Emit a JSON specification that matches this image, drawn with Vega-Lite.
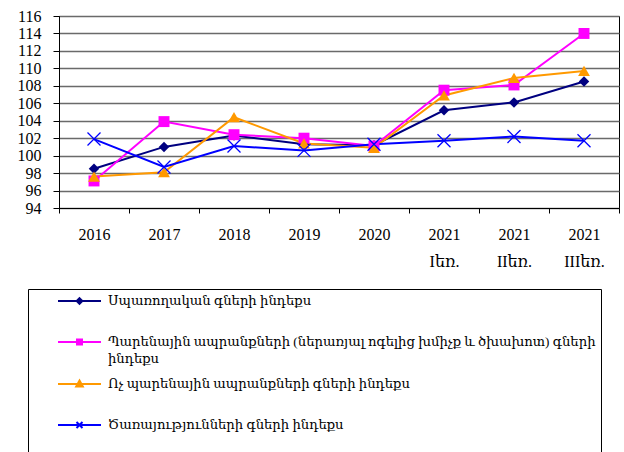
{
  "$schema": "https://vega.github.io/schema/vega-lite/v6.json",
  "width": 560,
  "height": 192,
  "autosize": {"type": "none"},
  "padding": {"left": 59, "top": 16, "right": 5, "bottom": 244},
  "background": "white",
  "config": {
    "font": "Liberation Serif, DejaVu Serif",
    "view": {"stroke": "black", "strokeWidth": 1}
  },
  "data": {
    "values": [
      {"period": "2016", "series": "Սպառողական  գների ինդեքս", "value": 98.5},
      {"period": "2017", "series": "Սպառողական  գների ինդեքս", "value": 101.0},
      {"period": "2018", "series": "Սպառողական  գների ինդեքս", "value": 102.3},
      {"period": "2019", "series": "Սպառողական  գների ինդեքս", "value": 101.3},
      {"period": "2020", "series": "Սպառողական  գների ինդեքս", "value": 101.2},
      {"period": "2021 Iեռ.", "series": "Սպառողական  գների ինդեքս", "value": 105.2},
      {"period": "2021 IIեռ.", "series": "Սպառողական  գների ինդեքս", "value": 106.1},
      {"period": "2021 IIIեռ.", "series": "Սպառողական  գների ինդեքս", "value": 108.5},
      {"period": "2016", "series": "Պարենային ապրանքների (ներառյալ ոգելից խմիչք և ծխախոտ) գների ինդեքս", "value": 97.1},
      {"period": "2017", "series": "Պարենային ապրանքների (ներառյալ ոգելից խմիչք և ծխախոտ) գների ինդեքս", "value": 103.9},
      {"period": "2018", "series": "Պարենային ապրանքների (ներառյալ ոգելից խմիչք և ծխախոտ) գների ինդեքս", "value": 102.4},
      {"period": "2019", "series": "Պարենային ապրանքների (ներառյալ ոգելից խմիչք և ծխախոտ) գների ինդեքս", "value": 102.0},
      {"period": "2020", "series": "Պարենային ապրանքների (ներառյալ ոգելից խմիչք և ծխախոտ) գների ինդեքս", "value": 101.1},
      {"period": "2021 Iեռ.", "series": "Պարենային ապրանքների (ներառյալ ոգելից խմիչք և ծխախոտ) գների ինդեքս", "value": 107.5},
      {"period": "2021 IIեռ.", "series": "Պարենային ապրանքների (ներառյալ ոգելից խմիչք և ծխախոտ) գների ինդեքս", "value": 108.1},
      {"period": "2021 IIIեռ.", "series": "Պարենային ապրանքների (ներառյալ ոգելից խմիչք և ծխախոտ) գների ինդեքս", "value": 114.0},
      {"period": "2016", "series": "Ոչ պարենային ապրանքների գների ինդեքս", "value": 97.6},
      {"period": "2017", "series": "Ոչ պարենային ապրանքների գների ինդեքս", "value": 98.1},
      {"period": "2018", "series": "Ոչ պարենային ապրանքների գների ինդեքս", "value": 104.4},
      {"period": "2019", "series": "Ոչ պարենային ապրանքների գների ինդեքս", "value": 101.4},
      {"period": "2020", "series": "Ոչ պարենային ապրանքների գների ինդեքս", "value": 100.9},
      {"period": "2021 Iեռ.", "series": "Ոչ պարենային ապրանքների գների ինդեքս", "value": 106.9},
      {"period": "2021 IIեռ.", "series": "Ոչ պարենային ապրանքների գների ինդեքս", "value": 108.9},
      {"period": "2021 IIIեռ.", "series": "Ոչ պարենային ապրանքների գների ինդեքս", "value": 109.7},
      {"period": "2016", "series": "Ծառայությունների գների ինդեքս", "value": 101.9},
      {"period": "2017", "series": "Ծառայությունների գների ինդեքս", "value": 98.7},
      {"period": "2018", "series": "Ծառայությունների գների ինդեքս", "value": 101.1},
      {"period": "2019", "series": "Ծառայությունների գների ինդեքս", "value": 100.6},
      {"period": "2020", "series": "Ծառայությունների գների ինդեքս", "value": 101.3},
      {"period": "2021 Iեռ.", "series": "Ծառայությունների գների ինդեքս", "value": 101.7},
      {"period": "2021 IIեռ.", "series": "Ծառայությունների գների ինդեքս", "value": 102.2},
      {"period": "2021 IIIեռ.", "series": "Ծառայությունների գների ինդեքս", "value": 101.7}
    ]
  },
  "encoding": {
    "x": {
      "field": "period", "type": "nominal", "sort": null,
      "scale": {"paddingInner": 0, "paddingOuter": 0},
      "axis": {
        "title": null, "labelAngle": 0, "tickBand": "extent", "grid": false,
        "domainColor": "black", "tickColor": "black", "tickSize": 5,
        "labelFontSize": 16, "labelColor": "black", "labelPadding": 13,
        "labelLineHeight": 27, "labelBaseline": "top",
        "labelExpr": "split(datum.label, ' ')"
      }
    },
    "y": {
      "field": "value", "type": "quantitative",
      "scale": {"domain": [94, 116], "nice": false, "zero": false},
      "axis": {
        "title": null, "values": [94, 96, 98, 100, 102, 104, 106, 108, 110, 112, 114, 116],
        "domainColor": "black", "tickColor": "black", "tickSize": 6,
        "labelFontSize": 16, "labelColor": "black", "labelPadding": 12,
        "gridColor": "#6a6a6a", "gridWidth": 1.3, "gridOpacity": 1
      }
    }
  },
  "layer": [
    {
      "mark": {"type": "line", "strokeWidth": 2},
      "encoding": {
        "color": {
          "field": "series", "type": "nominal",
          "scale": {
            "domain": ["Սպառողական  գների ինդեքս", "Պարենային ապրանքների (ներառյալ ոգելից խմիչք և ծխախոտ) գների ինդեքս", "Ոչ պարենային ապրանքների գների ինդեքս", "Ծառայությունների գների ինդեքս"],
            "range": ["#000080", "#FF00FF", "#FF9900", "#0000FF"]
          },
          "legend": {
            "title": null, "orient": "none", "legendX": -31, "legendY": 273,
            "direction": "vertical",
            "strokeColor": "black", "padding": 5, "symbolOffset": 39.5,
            "symbolSize": 144, "symbolStrokeWidth": 2,
            "labelFontSize": 13.2, "labelColor": "black", "labelLimit": 600,
            "labelOffset": 21.5, "rowPadding": 10,
            "labelExpr": "indexof(datum.label, 'Պարենային') == 0 ? ['Պարենային ապրանքների (ներառյալ ոգելից խմիչք և ծխախոտ) գների       ', 'ինդեքս'] : [datum.label, '']",
            "encode": {
              "labels": {
                "update": {
                  "lineHeight": {"value": 17}
                }
              },
              "symbols": {
                "update": {
                  "shape": {"signal": "indexof(datum.value, 'Սպառողական') == 0 ? 'M-3.58,0L3.58,0M0,-0.47L0.47,0L0,0.47L-0.47,0Z' : indexof(datum.value, 'Պարենային') == 0 ? 'M-3.58,0L3.58,0M-0.42,-0.42L0.42,-0.42L0.42,0.42L-0.42,0.42Z' : indexof(datum.value, 'Ոչ') == 0 ? 'M-3.58,0L3.58,0M0,-0.58L0.55,0.42L-0.55,0.42Z' : 'M-3.58,0L3.58,0M-0.5,-0.5L0.5,0.5M-0.5,0.5L0.5,-0.5'"},
                  "fill": {"signal": "scale('color', datum.value)"},
                  "stroke": {"signal": "scale('color', datum.value)"},
                  "strokeWidth": {"value": 2}
                }
              }
            }
          }
        }
      }
    },
    {
      "transform": [{"filter": "datum.series != 'Ծառայությունների գների ինդեքս'"}],
      "mark": {"type": "point", "filled": true, "opacity": 1},
      "encoding": {
        "fill": {
          "field": "series", "type": "nominal", "legend": null,
          "scale": {
            "domain": ["Սպառողական  գների ինդեքս", "Պարենային ապրանքների (ներառյալ ոգելից խմիչք և ծխախոտ) գների ինդեքս", "Ոչ պարենային ապրանքների գների ինդեքս"],
            "range": ["#000080", "#FF00FF", "#FF9900"]
          }
        },
        "shape": {
          "field": "series", "type": "nominal", "legend": null,
          "scale": {
            "domain": ["Սպառողական  գների ինդեքս", "Պարենային ապրանքների (ներառյալ ոգելից խմիչք և ծխախոտ) գների ինդեքս", "Ոչ պարենային ապրանքների գների ինդեքս"],
            "range": ["diamond", "square", "triangle-up"]
          }
        },
        "size": {
          "field": "series", "type": "nominal", "legend": null,
          "scale": {
            "type": "ordinal",
            "domain": ["Սպառողական  գների ինդեքս", "Պարենային ապրանքների (ներառյալ ոգելից խմիչք և ծխախոտ) գների ինդեքս", "Ոչ պարենային ապրանքների գների ինդեքս"],
            "range": [110, 120, 140]
          }
        }
      }
    },
    {
      "transform": [{"filter": "datum.series == 'Ծառայությունների գների ինդեքս'"}],
      "mark": {"type": "point", "filled": false, "shape": "M-1,-1L1,1M-1,1L1,-1", "size": 169, "stroke": "#0000FF", "strokeWidth": 1.3, "opacity": 1},
      "encoding": {}
    }
  ]
}
